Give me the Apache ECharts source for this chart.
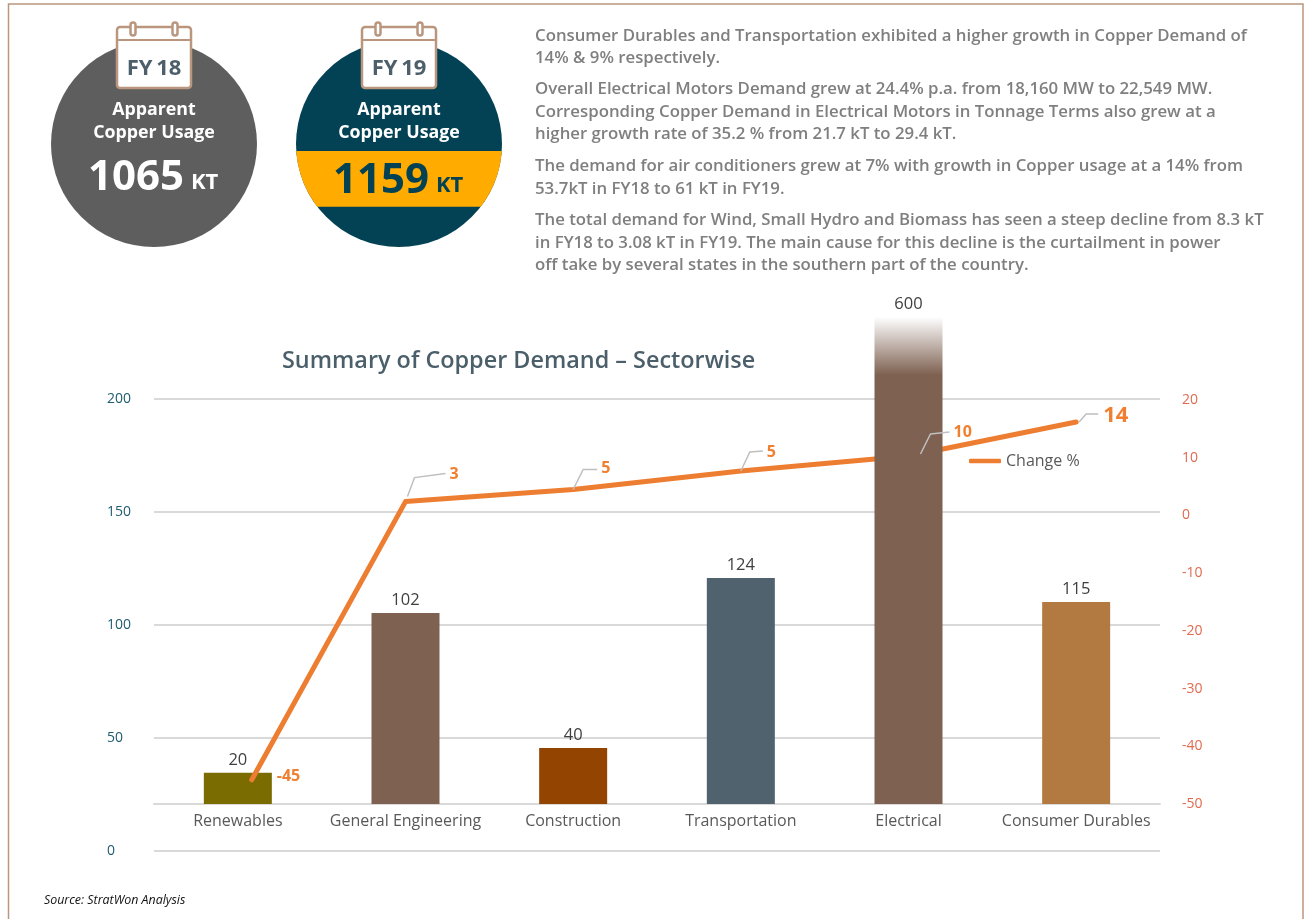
<!DOCTYPE html>
<html>
<head>
<meta charset="utf-8">
<title>Summary of Copper Demand - Sectorwise</title>
<style>
  html, body { margin: 0; padding: 0; background: #fff; }
  #chart { width: 1305px; height: 919px; }
</style>
<script src="https://cdn.jsdelivr.net/npm/echarts@6/dist/echarts.min.js"></script>
</head>
<body>
<div id="chart"></div>
<script>
const categories = ['Renewables', 'General Engineering', 'Construction', 'Transportation', 'Electrical', 'Consumer Durables'];
// bar tops as drawn, read on the left axis (the printed labels do not match the drawn heights)
const barTops = [34.6, 105.2, 45.5, 120.7, 236.1, 110.1];
const barLabels = ['20', '102', '40', '124', '600', '115'];
// line as drawn, read on the right axis, and the numbers printed next to it
const changeValues = [-45.8, 2.4, 4.5, 7.7, 10.3, 16.2];
const changeLabels = ['-45', '3', '5', '5', '10', '14'];
const leftTicks = [0, 50, 100, 150, 200];
const rightTicks = [-50, -40, -30, -20, -10, 0, 10, 20];
const paragraphLines = [
  'Consumer Durables and Transportation exhibited a higher growth in Copper Demand of',
  '14% & 9% respectively.',
  'Overall Electrical Motors Demand grew at 24.4% p.a. from 18,160 MW to 22,549 MW.',
  'Corresponding Copper Demand in Electrical Motors in Tonnage Terms also grew at a',
  'higher growth rate of 35.2 % from 21.7 kT to 29.4 kT.',
  'The demand for air conditioners grew at 7% with growth in Copper usage at a 14% from',
  '53.7kT in FY18 to 61 kT in FY19.',
  'The total demand for Wind, Small Hydro and Biomass has seen a steep decline from 8.3 kT',
  'in FY18 to 3.08 kT in FY19. The main cause for this decline is the curtailment in power',
  'off take by several states in the southern part of the country.'
];

const FONT = '"Open Sans"';
const TAN = '#B9967D';
const TEAL = '#034254';
const ORANGE = '#ED7D31';
const barColors = ['#7A6C00', '#7E6151', '#934400', '#4F626E', null, '#B27A40'];
const ELECTRICAL = 4;

// pixel layout of the leader lines and printed labels, relative to each line point
const leaders = [
  null,
  [[2, -5], [9, -24], [40, -28]],
  [[0, 0], [10, -20], [24, -20]],
  [[0, 0], [9, -19], [22, -20]],
  [[12, -2], [22, -22], [41, -24]],
  [[3, 0], [10, -8], [22, -8]]
];
const labelOffsets = [[25, -3], [44, -27], [28, -21], [26, -19], [45, -24], [27, -6]];

const paragraphY = [36, 58, 89, 112, 134, 166, 189, 220, 243, 265];

function text(str, x, y, font, fill, align) {
  return {
    type: 'text',
    z: 10,
    style: { text: str, x: x, y: y, font: font, fill: fill, textAlign: align || 'center', textVerticalAlign: 'middle' }
  };
}

function bandPoints(cx, cy, r, top, bottom) {
  const pts = [];
  const a1 = Math.asin((top - cy) / r);
  const a2 = Math.asin((bottom - cy) / r);
  for (let i = 0; i <= 20; i++) {
    const a = a1 + (a2 - a1) * i / 20;
    pts.push([cx + r * Math.cos(a), cy + r * Math.sin(a)]);
  }
  for (let i = 20; i >= 0; i--) {
    const a = a1 + (a2 - a1) * i / 20;
    pts.push([cx - r * Math.cos(a), cy + r * Math.sin(a)]);
  }
  return pts;
}

function calendar(cx, label) {
  const stroke = { stroke: TAN, lineWidth: 2.5, fill: '#fff' };
  return [
    { type: 'rect', z: 5, shape: { x: cx - 37, y: 27, width: 74, height: 61, r: 3 }, style: stroke },
    { type: 'line', z: 5, shape: { x1: cx - 37, y1: 40, x2: cx + 37, y2: 40 }, style: { stroke: TAN, lineWidth: 2 } },
    { type: 'rect', z: 6, shape: { x: cx - 23.5, y: 22.5, width: 5, height: 13, r: 2.5 }, style: stroke },
    { type: 'rect', z: 6, shape: { x: cx + 18.5, y: 22.5, width: 5, height: 13, r: 2.5 }, style: stroke },
    text(label, cx, 69, 'bold 22px ' + FONT, '#4D5F6B')
  ];
}

const graphicItems = [
  { type: 'polyline', shape: { points: [[8.5, 919], [8.5, 4], [1303, 4], [1303, 919]] }, style: { stroke: TAN, lineWidth: 1.5, fill: 'none' } },
  { type: 'circle', z: 1, shape: { cx: 154, cy: 144, r: 103 }, style: { fill: '#5E5E5E' } },
  { type: 'circle', z: 1, shape: { cx: 399, cy: 144, r: 103 }, style: { fill: TEAL } },
  { type: 'polygon', z: 2, shape: { points: bandPoints(399, 144, 103, 151, 206.7) }, style: { fill: '#FFAB00' } },
  ...calendar(154, 'FY\u200918'),
  ...calendar(399, 'FY\u200919'),
  text('Apparent', 154, 110, 'bold 17.8px ' + FONT, '#fff'),
  text('Copper Usage', 154, 133, 'bold 17.8px ' + FONT, '#fff'),
  text('1065', 88, 178, 'bold 42px ' + FONT, '#fff', 'left'),
  text('KT', 191, 183, 'bold 22px ' + FONT, '#fff', 'left'),
  text('Apparent', 399, 110, 'bold 17.8px ' + FONT, '#fff'),
  text('Copper Usage', 399, 133, 'bold 17.8px ' + FONT, '#fff'),
  text('1159', 333, 181, 'bold 42px ' + FONT, TEAL, 'left'),
  text('KT', 436, 186, 'bold 22px ' + FONT, TEAL, 'left'),
  text('Source: StratWon Analysis', 44, 900, 'italic 12.4px ' + FONT, '#111', 'left')
];
paragraphLines.forEach(function (line, i) {
  graphicItems.push(text(line, 535, paragraphY[i], '600 16.8px ' + FONT, '#7F7F7F', 'left'));
});

// the first point of the source line sits to the right of its bar centre
const firstPointShift = 0.083;
const linePoints = changeValues.map(function (v, i) {
  return [i + 0.5 + (i === 0 ? firstPointShift : 0), v];
});

const barColor = function (i) {
  if (i !== ELECTRICAL) return barColors[i];
  return new echarts.graphic.LinearGradient(0, 0, 0, 1, [
    { offset: 0, color: 'rgba(126,97,81,0)' },
    { offset: 0.119, color: '#7E6151' },
    { offset: 1, color: '#7E6151' }
  ]);
};
const barItem = function (v, i) {
  return { value: v, itemStyle: { color: barColor(i) } };
};
const barLabel = {
  show: true,
  position: 'top',
  distance: 4,
  color: '#404040',
  fontFamily: FONT,
  fontSize: 16.5,
  formatter: function (p) { return barLabels[p.dataIndex]; }
};

const option = {
  animation: false,
  backgroundColor: '#fff',
  textStyle: { fontFamily: FONT },
  title: {
    text: 'Summary of Copper Demand \u2013 Sectorwise',
    left: 277,
    top: 345,
    textStyle: { fontFamily: FONT, fontSize: 23.4, fontWeight: 600, color: '#4B5F6B' }
  },
  legend: {
    data: [{ name: 'Change %', icon: 'roundRect' }],
    left: 964,
    top: 448,
    itemWidth: 32,
    itemHeight: 4.5,
    selectedMode: false,
    textStyle: { fontFamily: FONT, fontSize: 16, color: '#595959' }
  },
  graphic: { elements: graphicItems },
  grid: [
    { left: 154, right: 145, top: 399, bottom: 68 },
    { left: 154, right: 145, top: 284.6, bottom: 115 }
  ],
  xAxis: [
    { type: 'category', gridIndex: 0, data: categories, show: false },
    {
      type: 'category',
      gridIndex: 1,
      data: categories,
      axisLine: { onZero: false, lineStyle: { color: '#D9D9D9', width: 2 } },
      axisTick: { show: false },
      axisLabel: { color: '#595959', fontFamily: FONT, fontSize: 16, margin: 9, interval: 0 }
    },
    { type: 'value', gridIndex: 1, min: 0, max: categories.length, show: false }
  ],
  yAxis: [
    {
      type: 'value',
      gridIndex: 0,
      min: leftTicks[0],
      max: leftTicks[leftTicks.length - 1],
      interval: 50,
      axisLine: { show: false },
      axisTick: { show: false },
      axisLabel: { color: '#1F5B70', fontFamily: FONT, fontSize: 14, align: 'left', margin: 47 },
      splitLine: { lineStyle: { color: '#D9D9D9', width: 2 } }
    },
    {
      type: 'value',
      gridIndex: 1,
      position: 'right',
      min: rightTicks[0],
      max: 40,
      interval: 10,
      axisLine: { show: false },
      axisTick: { show: false },
      splitLine: { show: false },
      axisLabel: {
        color: '#E06B50',
        fontFamily: FONT,
        fontSize: 14,
        align: 'left',
        margin: 22,
        formatter: function (v) { return rightTicks.indexOf(v) >= 0 ? String(v) : ''; }
      }
    },
    { type: 'value', gridIndex: 1, min: 20.8, max: 250.4, show: false, splitLine: { show: false } }
  ],
  series: [
    {
      name: 'Sectors',
      type: 'bar',
      xAxisIndex: 1,
      yAxisIndex: 2,
      z: 1,
      barWidth: 68,
      barGap: '-100%',
      clip: true,
      label: barLabel,
      data: barTops.map(function (v, i) { return i === ELECTRICAL ? null : barItem(v, i); })
    },
    {
      name: 'Electrical',
      type: 'bar',
      xAxisIndex: 1,
      yAxisIndex: 2,
      z: 3,
      barWidth: 68,
      barGap: '-100%',
      clip: true,
      label: barLabel,
      data: barTops.map(function (v, i) { return i === ELECTRICAL ? barItem(v, i) : null; })
    },
    {
      name: 'Change %',
      type: 'line',
      xAxisIndex: 2,
      yAxisIndex: 1,
      z: 2,
      symbol: 'none',
      itemStyle: { color: ORANGE },
      lineStyle: { color: ORANGE, width: 5, cap: 'round', join: 'round' },
      data: linePoints
    },
    {
      name: 'Change labels',
      type: 'custom',
      xAxisIndex: 2,
      yAxisIndex: 1,
      z: 4,
      clip: false,
      data: linePoints,
      renderItem: function (params, api) {
        const i = params.dataIndex;
        const p = api.coord([api.value(0), api.value(1)]);
        const children = [];
        if (leaders[i]) {
          children.push({
            type: 'polyline',
            shape: { points: leaders[i].map(function (d) { return [p[0] + d[0], p[1] + d[1]]; }) },
            style: { stroke: '#BFBFBF', lineWidth: 1.5, fill: 'none' }
          });
        }
        children.push({
          type: 'text',
          style: {
            text: changeLabels[i],
            x: p[0] + labelOffsets[i][0],
            y: p[1] + labelOffsets[i][1],
            fill: '#F08030',
            font: 'bold ' + (i === categories.length - 1 ? 22 : 16) + 'px ' + FONT,
            textVerticalAlign: 'middle'
          }
        });
        return { type: 'group', children: children };
      }
    }
  ]
};

const chart = echarts.init(document.getElementById('chart'));
chart.setOption(option);
</script>
</body>
</html>
